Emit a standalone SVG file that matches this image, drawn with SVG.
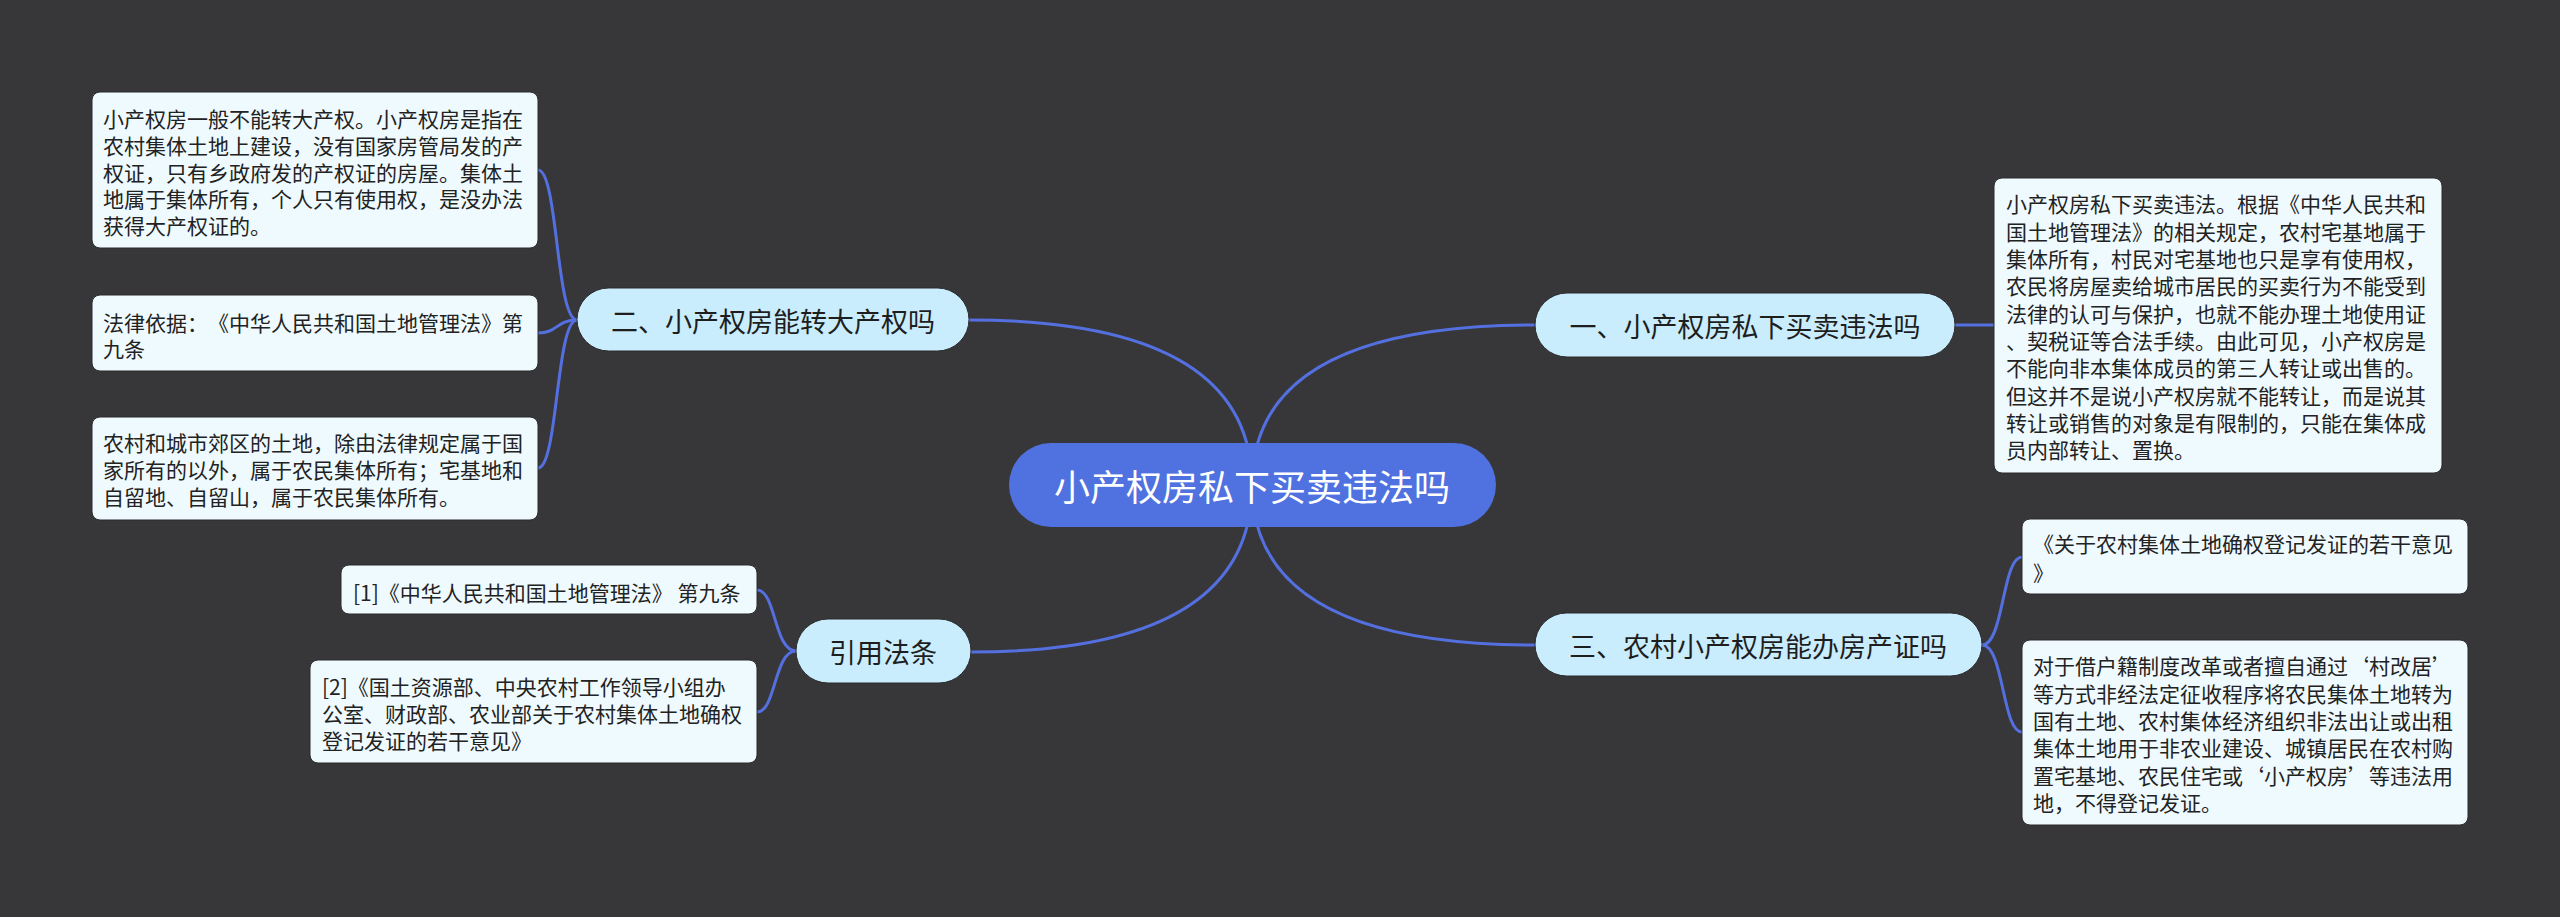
<svg xmlns="http://www.w3.org/2000/svg" width="2560" height="917" viewBox="0 0 2560 917">
<style>
text{font-family:"Noto Sans CJK SC","Noto Sans",sans-serif;dominant-baseline:central;text-spacing-trim:space-all;}
.bg{fill:#373739;}
.center rect{fill:#5071e0;}
.center text{fill:#ffffff;font-size:36px;}
.branch rect{fill:#c9edfc;stroke:#2b2b2d;stroke-width:1;}
.branch text{fill:#1e1e1e;font-size:27px;text-anchor:middle;}
.leaf rect{fill:#effafe;stroke:#2b2b2d;stroke-width:1;}
.leaf text{fill:#222222;font-size:21px;}
.conn path{fill:none;stroke:#5470e0;stroke-width:3;}
</style>
<rect class="bg" x="0" y="0" width="2560" height="917"/>
<g id="connectors" class="conn">
<path d="M1252,485 Q1252,320 969,320"/>
<path d="M1252,485 Q1252,325 1535,325"/>
<path d="M1252,485 Q1252,645 1535,645"/>
<path d="M1252,485 Q1252,652 971,652"/>
<path d="M577,320 C556,320 558,170 538,170"/>
<path d="M577,320 C556,320 558,333 538,333"/>
<path d="M577,320 C556,320 558,468 538,468"/>
<path d="M1955,325 L1994,325"/>
<path d="M1982,645 C2004,645 2002,557 2022,557"/>
<path d="M1982,645 C2004,645 2002,732 2022,732"/>
<path d="M796,651 C774,651 776,590 757,590"/>
<path d="M796,651 C774,651 776,712 757,712"/>
</g>
<g id="center" class="center">
<rect x="1009" y="443" width="487" height="84" rx="42"/>
<text x="1252" y="485" text-anchor="middle">小产权房私下买卖违法吗</text>
</g>
<g id="b1" class="branch">
<rect x="1535" y="293" width="420" height="64" rx="32"/>
<text x="1745" y="325">一、小产权房私下买卖违法吗</text>
</g>
<g id="b2" class="branch">
<rect x="577" y="288" width="392" height="63" rx="31.5"/>
<text x="773" y="320">二、小产权房能转大产权吗</text>
</g>
<g id="b3" class="branch">
<rect x="1535" y="613" width="447" height="63" rx="31.5"/>
<text x="1758" y="645">三、农村小产权房能办房产证吗</text>
</g>
<g id="b4" class="branch">
<rect x="796" y="619" width="175" height="64" rx="32"/>
<text x="883" y="651">引用法条</text>
</g>
<g id="leaf-r1" class="leaf">
<rect x="1994" y="178" width="448" height="295" rx="8"/>
<text x="2006" y="203">小产权房私下买卖违法。根据《中华人民共和</text>
<text x="2006" y="231">国土地管理法》的相关规定，农村宅基地属于</text>
<text x="2006" y="258">集体所有，村民对宅基地也只是享有使用权，</text>
<text x="2006" y="285">农民将房屋卖给城市居民的买卖行为不能受到</text>
<text x="2006" y="313">法律的认可与保护，也就不能办理土地使用证</text>
<text x="2006" y="340">、契税证等合法手续。由此可见，小产权房是</text>
<text x="2006" y="367">不能向非本集体成员的第三人转让或出售的。</text>
<text x="2006" y="395">但这并不是说小产权房就不能转让，而是说其</text>
<text x="2006" y="422">转让或销售的对象是有限制的，只能在集体成</text>
<text x="2006" y="449">员内部转让、置换。</text>
</g>
<g id="leaf-l1" class="leaf">
<rect x="92" y="92" width="446" height="156" rx="8"/>
<text x="103" y="118">小产权房一般不能转大产权。小产权房是指在</text>
<text x="103" y="145">农村集体土地上建设，没有国家房管局发的产</text>
<text x="103" y="172">权证，只有乡政府发的产权证的房屋。集体土</text>
<text x="103" y="198">地属于集体所有，个人只有使用权，是没办法</text>
<text x="103" y="225">获得大产权证的。</text>
</g>
<g id="leaf-l2" class="leaf">
<rect x="92" y="295" width="446" height="76" rx="8"/>
<text x="103" y="322">法律依据：《中华人民共和国土地管理法》第</text>
<text x="103" y="348">九条</text>
</g>
<g id="leaf-l3" class="leaf">
<rect x="92" y="417" width="446" height="103" rx="8"/>
<text x="103" y="442">农村和城市郊区的土地，除由法律规定属于国</text>
<text x="103" y="469">家所有的以外，属于农民集体所有；宅基地和</text>
<text x="103" y="496">自留地、自留山，属于农民集体所有。</text>
</g>
<g id="leaf-r3a" class="leaf">
<rect x="2022" y="519" width="446" height="75" rx="8"/>
<text x="2033" y="543">《关于农村集体土地确权登记发证的若干意见</text>
<text x="2033" y="572">》</text>
</g>
<g id="leaf-r3b" class="leaf">
<rect x="2022" y="640" width="446" height="185" rx="8"/>
<text x="2033" y="665">对于借户籍制度改革或者擅自通过‘村改居’</text>
<text x="2033" y="693">等方式非经法定征收程序将农民集体土地转为</text>
<text x="2033" y="720">国有土地、农村集体经济组织非法出让或出租</text>
<text x="2033" y="747">集体土地用于非农业建设、城镇居民在农村购</text>
<text x="2033" y="775">置宅基地、农民住宅或‘小产权房’等违法用</text>
<text x="2033" y="802">地，不得登记发证。</text>
</g>
<g id="leaf-c1" class="leaf">
<rect x="341" y="565" width="416" height="49" rx="8"/>
<text x="353" y="592">[1]《中华人民共和国土地管理法》 第九条</text>
</g>
<g id="leaf-c2" class="leaf">
<rect x="310" y="660" width="447" height="103" rx="8"/>
<text x="322" y="686">[2]《国土资源部、中央农村工作领导小组办</text>
<text x="322" y="713">公室、财政部、农业部关于农村集体土地确权</text>
<text x="322" y="740">登记发证的若干意见》</text>
</g>
</svg>
